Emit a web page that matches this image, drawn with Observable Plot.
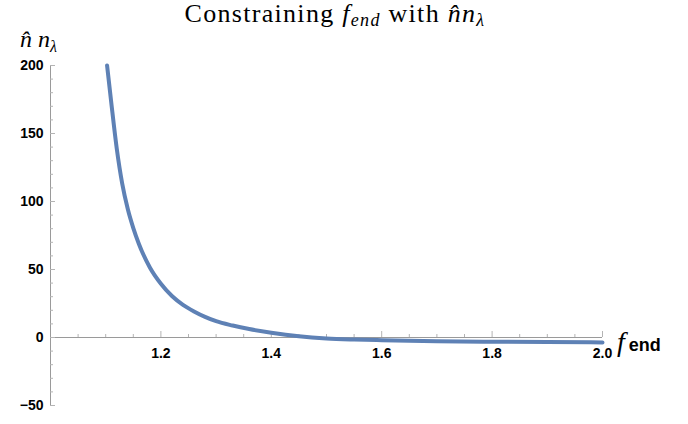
<!DOCTYPE html>
<html>
<head>
<meta charset="utf-8">
<script src="https://cdn.jsdelivr.net/npm/d3@7"></script>
<script src="https://cdn.jsdelivr.net/npm/@observablehq/plot@0.6"></script>
<style>
  html, body { margin: 0; padding: 0; background: #fff; }
  svg { display: block; }
</style>
</head>
<body>
<div id="chart"></div>
<script>
// ---- data ----
const fEnd = [1.1025, 1.11, 1.12, 1.13, 1.14, 1.15, 1.16, 1.18, 1.2,
  1.22, 1.24, 1.26, 1.28, 1.3, 1.33, 1.36, 1.4, 1.45, 1.5, 1.55, 1.6, 1.7, 1.8, 1.9, 2.0];
const nHatNLambda = [200, 173, 139, 113, 94.5, 80.5, 69, 51.5, 39.5,
  30.5, 24.0, 19.2, 15.2, 12.0, 8.8, 6.2, 3.5, 0.9, -0.7, -1.5, -2.0, -2.7, -3.1, -3.4, -3.6];

const xMajorTicks = [1.2, 1.4, 1.6, 1.8, 2.0];
const xTickLabels = ["1.2", "1.4", "1.6", "1.8", "2.0"];
const xMinorTicks = [1.05, 1.1, 1.15, 1.25, 1.3, 1.35, 1.45, 1.5, 1.55, 1.65, 1.7, 1.75, 1.85, 1.9, 1.95];
const yMajorTicks = [-50, 0, 50, 100, 150, 200];
const yTickLabels = ["\u221250", "0", "50", "100", "150", "200"];
const yMinorTicks = [-40, -30, -20, -10, 10, 20, 30, 40, 60, 70, 80, 90, 110, 120, 130, 140, 160, 170, 180, 190];

const xDomain = [1, 2];
const yDomain = [-50, 200];

// ---- chart ----
const curveData = fEnd.map((x, i) => ({x, y: nHatNLambda[i]}));
const axisColor = "#9a9a9a";
const tickColor = "#b4b4b4";
const lineColor = "#5e81b5";
const tickFont = "'Liberation Sans', Arial, sans-serif";

const chart = Plot.plot({
  width: 688,
  height: 424,
  marginLeft: 50,
  marginRight: 86,
  marginTop: 65,
  marginBottom: 19,
  style: {fontFamily: tickFont, background: "#fff", overflow: "visible"},
  x: {domain: xDomain, axis: null},
  y: {domain: yDomain, axis: null},
  marks: [
    // axes lines
    Plot.ruleY([0], {x1: xDomain[0], x2: xDomain[1], stroke: axisColor, strokeWidth: 1}),
    Plot.ruleX([xDomain[0]], {y1: yDomain[0], y2: yDomain[1], stroke: axisColor, strokeWidth: 1}),
    // x ticks (pointing up)
    Plot.ruleX(xMinorTicks, {x: d => d, y1: 0, y2: 0, insetBottom: 3, stroke: tickColor}),
    Plot.ruleX(xMajorTicks, {x: d => d, y1: 0, y2: 0, insetBottom: 6, stroke: tickColor}),
    // y ticks (pointing right)
    Plot.ruleY(yMinorTicks, {y: d => d, x1: xDomain[0], x2: xDomain[0], insetRight: -3, stroke: tickColor}),
    Plot.ruleY(yMajorTicks, {y: d => d, x1: xDomain[0], x2: xDomain[0], insetRight: -5, stroke: tickColor}),
    // curve
    Plot.line(curveData, {x: "x", y: "y", stroke: lineColor, strokeWidth: 4, curve: "monotone-x"}),
    // tick labels
    Plot.text(xMajorTicks, {x: d => d, y: 0, text: (d, i) => xTickLabels[i], dy: 16,
      fontSize: 14, fontWeight: "bold", fill: "#000"}),
    Plot.text(yMajorTicks, {x: xDomain[0], y: d => d, text: (d, i) => yTickLabels[i], dx: -7,
      textAnchor: "end", fontSize: 14, fontWeight: "bold", fill: "#000"})
  ]
});

document.getElementById("chart").appendChild(chart);

// ---- rich-text labels (title, axis labels) ----
const svg = d3.select(chart);
const sx = chart.scale("x"), sy = chart.scale("y");
const serif = "'Liberation Serif', 'Times New Roman', serif";

const title = svg.append("text")
  .attr("x", 335).attr("y", 22)
  .attr("text-anchor", "middle")
  .attr("letter-spacing", 1.3)
  .attr("font-family", serif).attr("font-size", 26).attr("fill", "#000");
title.append("tspan").text("Constraining ");
title.append("tspan").attr("font-style", "italic").text("f");
title.append("tspan").attr("font-style", "italic").attr("font-size", 18).attr("dy", 4).text("end");
title.append("tspan").attr("dy", -4).text(" with ");
title.append("tspan").attr("font-style", "italic").text("n\u0302n");
title.append("tspan").attr("font-style", "italic").attr("font-size", 18).attr("dy", 4).text("\u03bb");

const ylab = svg.append("text")
  .attr("x", sx.apply(xDomain[0]) - 30).attr("y", 47)
  .attr("text-anchor", "start")
  .attr("font-family", serif).attr("font-size", 24).attr("font-style", "italic").attr("fill", "#000");
ylab.append("tspan").text("n\u0302 n");
ylab.append("tspan").attr("font-size", 16).attr("dy", 5).text("\u03bb");

const xlab = svg.append("text")
  .attr("x", sx.apply(xDomain[1]) + 15).attr("y", sy.apply(0) + 14)
  .attr("text-anchor", "start")
  .attr("fill", "#000");
xlab.append("tspan").attr("font-family", serif).attr("font-style", "italic").attr("font-size", 28).text("f");
xlab.append("tspan").attr("dx", 4).attr("font-family", tickFont).attr("font-weight", "bold").attr("font-size", 18).text("end");
</script>
</body>
</html>
